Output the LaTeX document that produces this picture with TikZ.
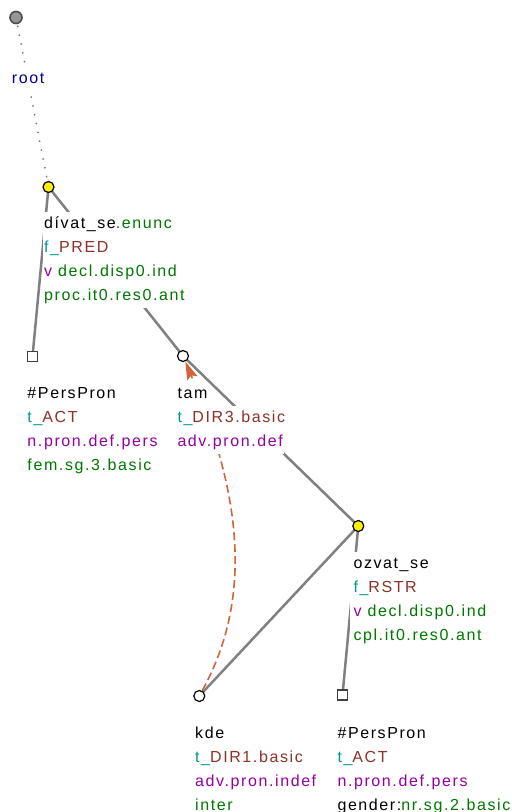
\documentclass[tikz,border=0pt]{standalone}
\usepackage{fontspec}
\setmainfont[LetterSpace=10]{Liberation Sans}
\usetikzlibrary{arrows.meta}
\pgfdeclarelayer{bg}
\pgfsetlayers{bg,main}
\definecolor{edgegray}{RGB}{128,128,128}
\definecolor{rootgray}{RGB}{150,150,150}
\definecolor{dotgray}{RGB}{120,120,120}
\definecolor{cteal}{RGB}{0,150,150}
\definecolor{cbrown}{RGB}{140,50,40}
\definecolor{cpurple}{RGB}{150,0,160}
\definecolor{cgreen}{RGB}{0,120,0}
\definecolor{cblue}{RGB}{0,0,160}
\definecolor{ccoref}{RGB}{210,100,60}
\definecolor{nodeyellow}{RGB}{255,240,0}
\tikzset{
  lbl/.style={anchor=base west, fill=white, inner xsep=1bp, inner ysep=0bp,
    text height=16bp, text depth=8bp, font=\fontsize{16bp}{24bp}\selectfont},
  widelbl/.style={lbl, inner xsep=4bp, xshift=-3bp},
  edge/.style={draw=edgegray, line width=2.5bp},
  rootedge/.style={draw=dotgray, line width=2bp, line cap=round, dash pattern=on 0bp off 9bp},
  coref/.style={draw=ccoref, line width=1.6bp, dash pattern=on 8bp off 4bp,
    -{Stealth[length=18bp,width=11bp,inset=3bp]}},
  tnode/.style={circle, draw=black, fill=white, minimum size=11bp, inner sep=0bp, line width=1.2bp},
  ynode/.style={circle, draw=black, fill=nodeyellow, minimum size=11bp, inner sep=0bp, line width=1.2bp},
  rnode/.style={circle, draw=black!70, fill=rootgray, minimum size=12bp, inner sep=0bp, line width=1.6bp},
  snode/.style={rectangle, draw=black!75, fill=white, minimum size=10bp, inner sep=0bp, line width=1.2bp}
}
\begin{document}
\begin{tikzpicture}[x=1bp, y=-1bp]
\useasboundingbox (0,0) rectangle (512,812);
% labels
\node[lbl, text=cblue] (lroot) at (10.7,83) {root};

\node[lbl] (ld1) at (43,228) {dívat\_se\textcolor{cgreen}{.enunc}};
\node[lbl] (ld2) at (43,252) {\textcolor{cteal}{f\_}\textcolor{cbrown}{PRED}};
\node[lbl] (ld3) at (43,276) {\textcolor{cpurple}{v} \textcolor{cgreen}{decl.disp0.ind}};
\node[lbl] (ld4) at (43,300) {\textcolor{cgreen}{proc.it0.res0.ant}};

\node[lbl] (lp1) at (26.3,398) {\#PersPron};
\node[lbl] (lp2) at (26.3,422) {\textcolor{cteal}{t\_}\textcolor{cbrown}{ACT}};
\node[lbl] (lp3) at (26.3,446) {\textcolor{cpurple}{n.pron.def.pers}};
\node[lbl] (lp4) at (26.3,470) {\textcolor{cgreen}{fem.sg.3.basic}};

\node[lbl] (lt1) at (176.3,398) {tam};
\node[lbl] (lt2) at (176.3,422) {\textcolor{cteal}{t\_}\textcolor{cbrown}{DIR3.basic}};
\node[lbl] (lt3) at (176.3,446) {\textcolor{cpurple}{adv.pron.def}};

\node[widelbl] (lo1) at (352.3,568) {ozvat\_se};
\node[widelbl] (lo2) at (352.3,592) {\textcolor{cteal}{f\_}\textcolor{cbrown}{RSTR}};
\node[widelbl] (lo3) at (352.3,616) {\textcolor{cpurple}{v} \textcolor{cgreen}{decl.disp0.ind}};
\node[widelbl] (lo4) at (352.3,640) {\textcolor{cgreen}{cpl.it0.res0.ant}};

\node[lbl] (lk1) at (194,738) {kde};
\node[lbl] (lk2) at (194,762) {\textcolor{cteal}{t\_}\textcolor{cbrown}{DIR1.basic}};
\node[lbl] (lk3) at (194,786) {\textcolor{cpurple}{adv.pron.indef}};
\node[lbl] (lk4) at (194,810) {\textcolor{cgreen}{inter}};

\node[lbl] (lq1) at (336.3,738) {\#PersPron};
\node[lbl] (lq2) at (336.3,762) {\textcolor{cteal}{t\_}\textcolor{cbrown}{ACT}};
\node[lbl] (lq3) at (336.3,786) {\textcolor{cpurple}{n.pron.def.pers}};
\node[lbl] (lq4) at (336.3,810) {gender:\textcolor{cgreen}{nr.sg.2.basic}};

% tree nodes
\node[rnode] (root) at (16,17.5) {};
\node[ynode] (divat) at (48.5,187) {};
\node[snode] (pp1) at (32.5,356.5) {};
\node[tnode] (tam) at (183,356) {};
\node[ynode] (ozvat) at (358.3,526) {};
\node[tnode] (kde) at (199.3,696) {};
\node[snode] (pp2) at (342.5,695) {};

\begin{pgfonlayer}{bg}
\draw[rootedge] (root.center) -- (divat.center);
\draw[edge] (divat.center) -- (pp1.center);
\draw[edge] (divat.center) -- (tam.center);
\draw[edge] (tam.center) -- (ozvat.center);
\draw[edge] (ozvat.center) -- (kde.center);
\draw[edge] (ozvat.center) -- (pp2.center);
\draw[coref] (kde) .. controls (256.8,591.6) and (236.8,484) .. (tam);
\end{pgfonlayer}
\end{tikzpicture}
\end{document}
